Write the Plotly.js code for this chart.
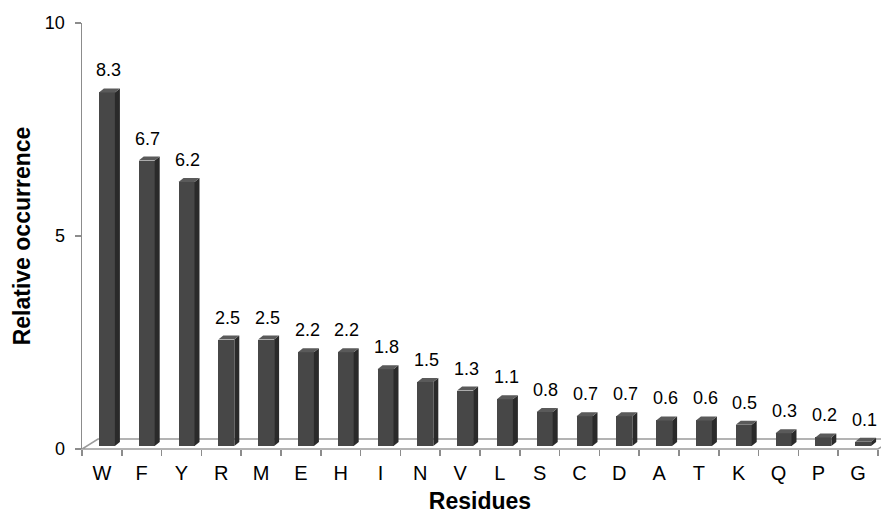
<!DOCTYPE html>
<html>
<head>
<meta charset="utf-8">
<script src="https://cdn.plot.ly/plotly-3.0.1.min.js"></script>
<style>html,body{margin:0;padding:0;background:#fff;}#chart{width:881px;height:514px;}</style>
</head>
<body>
<div id="chart"></div>
<script>
// ---- data ----
const categories = ['W','F','Y','R','M','E','H','I','N','V','L','S','C','D','A','T','K','Q','P','G'];
const values = [8.3, 6.7, 6.2, 2.5, 2.5, 2.2, 2.2, 1.8, 1.5, 1.3, 1.1, 0.8, 0.7, 0.7, 0.6, 0.6, 0.5, 0.3, 0.2, 0.1];
const yTickValues = [0, 5, 10];
const valueLabels = ['8.3','6.7','6.2','2.5','2.5','2.2','2.2','1.8','1.5','1.3','1.1','0.8','0.7','0.7','0.6','0.6','0.5','0.3','0.2','0.1'];

// ---- geometry helpers (pixel -> data units) ----
const W = 881, H = 514;
const M = {l: 82, r: 3, t: 23, b: 65};
const plotW = W - M.l - M.r, plotH = H - M.t - M.b;
const xRange = [-0.5, categories.length - 0.5];
const yRange = [0, 10];
const pxX = plotW / (xRange[1] - xRange[0]);
const pxY = plotH / (yRange[1] - yRange[0]);

const barOffset = -3 / pxX;     // front face left edge relative to category centre
const barWidth = 16 / pxX;      // front face width
const baseShift = 3 / pxY;      // bars stand slightly back on the floor
const depthX = 5 / pxX;         // 3D side depth
const depthY = 4 / pxY;

const idx = categories.map((c, i) => i);

// side and top faces
const sideX = [], sideY = [], topX = [], topY = [];
idx.forEach(i => {
  const v = values[i];
  const x0 = i + barOffset, x1 = x0 + barWidth, x2 = x1 + depthX;
  const y0 = baseShift, y1 = baseShift + v;
  sideX.push(x1, x2, x2, x1, x1, null);
  sideY.push(y0, y0 + depthY, y1 + depthY, y1, y0, null);
  topX.push(x0, x1, x2, x0 + depthX, x0, null);
  topY.push(y1, y1, y1 + depthY, y1 + depthY, y1, null);
});

const traces = [
  {
    type: 'bar', x: idx, y: values, base: baseShift,
    offset: barOffset, width: barWidth,
    marker: {color: '#474747', line: {width: 0}},
    hoverinfo: 'skip'
  },
  {
    type: 'scatter', mode: 'none', x: sideX, y: sideY, fill: 'toself',
    fillcolor: '#2a2a2a', hoverinfo: 'skip', connectgaps: false
  },
  {
    type: 'scatter', mode: 'none', x: topX, y: topY, fill: 'toself',
    fillcolor: '#5a5a5a', hoverinfo: 'skip', connectgaps: false
  }
];

const annotations = idx.map(i => ({
  x: i + barOffset + barWidth / 2 + 0.03, y: baseShift + values[i],
  xref: 'x', yref: 'y', text: valueLabels[i], showarrow: false,
  yanchor: 'bottom', xanchor: 'center', yshift: 10,
  font: {family: 'Arial, Liberation Sans, sans-serif', size: 18, color: '#000'}
}));

// floor (paper coordinates)
const fdx = 16 / plotW, fdy = 10 / plotH;
const shapes = [{
  type: 'path', xref: 'paper', yref: 'paper', layer: 'below',
  path: `M 0 0 L 1 0 L ${1 + fdx} ${fdy} L ${fdx} ${fdy} Z`,
  fillcolor: '#ffffff', line: {color: '#9a9a9a', width: 1.5}
}];

const boundaries = [];
for (let k = 0; k <= categories.length; k++) boundaries.push(k - 0.5);

const layout = {
  width: W, height: H,
  margin: M,
  paper_bgcolor: '#fff', plot_bgcolor: 'rgba(0,0,0,0)',
  showlegend: false,
  font: {family: 'Arial, Liberation Sans, sans-serif', color: '#000'},
  xaxis: {
    range: xRange, tickmode: 'array', tickvals: idx, ticktext: categories,
    ticks: '', showgrid: false, zeroline: false, showline: false,
    tickfont: {size: 20, color: '#000'}, ticklabelstandoff: 10,
    minor: {tickmode: 'array', tickvals: boundaries, ticks: 'outside', ticklen: 6, tickcolor: '#8c8c8c', tickwidth: 1.5, showgrid: false},
    title: {text: '<b>Residues</b>', font: {size: 23, color: '#000'}, standoff: 16},
    fixedrange: true
  },
  yaxis: {
    range: yRange, tickmode: 'array', tickvals: yTickValues, ticktext: yTickValues.map(String),
    ticks: 'outside', ticklen: 6, tickcolor: '#8c8c8c', tickwidth: 1.5,
    showline: true, linecolor: '#8c8c8c', linewidth: 1.5,
    showgrid: false, zeroline: false,
    tickfont: {size: 18, color: '#000'}, ticklabelstandoff: 6,
    title: {text: '<b>Relative occurrence</b>', font: {size: 23, color: '#000'}, standoff: 8},
    fixedrange: true
  },
  shapes: shapes,
  annotations: annotations,
  bargap: 0
};

Plotly.newPlot('chart', traces, layout, {displayModeBar: false, staticPlot: true});
</script>
</body>
</html>
